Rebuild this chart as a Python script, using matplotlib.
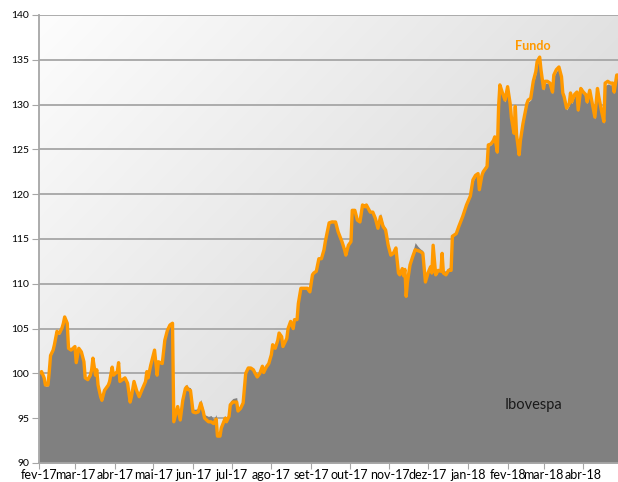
import numpy as np
import pandas as pd
import matplotlib
matplotlib.use("Agg")
import matplotlib.pyplot as plt

# days since 2017-02-01
days = [0, 2, 4, 5, 7, 8, 9, 11, 12, 14, 15, 16, 18, 19, 20, 22, 23, 25, 28, 29,
        31, 33, 35, 36, 38, 40, 41, 42, 44, 45, 46, 48, 49, 51, 54, 55, 57, 58, 61, 62,
        63, 65, 67, 69, 71, 72, 74, 76, 78, 80, 83, 84, 85, 87, 90, 92, 93, 96, 98, 100,
        102, 104, 105, 108, 110, 112, 114, 115, 116, 118, 120, 122, 124, 126, 128, 129, 132, 134, 136, 138,
        139, 141, 142, 145, 146, 148, 149, 151, 154, 155, 157, 159, 161, 163, 165, 167, 168, 170, 172, 174,
        175, 177, 179, 181, 182, 184, 186, 187, 189, 190, 193, 194, 196, 198, 199, 201, 202, 204, 206, 209,
        211, 213, 214, 216, 218, 220, 222, 223, 226, 228, 231, 233, 236, 238, 239, 241, 243, 244, 246, 248,
        250, 252, 254, 255, 258, 260, 262, 264, 266, 268, 270, 272, 274, 276, 278, 280, 281, 283, 284, 285,
        286, 287, 289, 291, 293, 295, 297, 299, 301, 303, 305, 306, 307, 309, 311, 313, 314, 315, 317, 319,
        321, 322, 325, 327, 330, 333, 336, 338, 340, 342, 343, 345, 346, 348, 349, 350, 352, 354, 355, 357,
        358, 359, 361, 363, 365, 367, 368, 370, 371, 372, 374, 375, 377, 380, 381, 383, 385, 387, 388, 390,
        391, 393, 394, 396, 398, 400, 401, 403, 405, 407, 408, 409, 411, 413, 414, 415, 417, 419, 420, 422,
        424, 426, 427, 429, 431, 433, 435, 436, 438, 440, 441, 443, 445, 447, 448, 450, 451]

fundo = [100.0, 100.2, 99.5, 98.7, 98.7, 100.2, 102.0, 102.6, 103.2, 104.7, 104.5, 104.5, 105.1, 105.6, 106.3, 105.6, 102.8, 102.6, 103.0, 101.2,
         102.8, 102.4, 101.3, 99.5, 99.3, 99.8, 100.4, 101.7, 99.8, 100.4, 98.7, 97.4, 97.0, 98.1, 98.7, 99.1, 100.7, 99.8, 100.2, 101.2,
         99.1, 99.3, 99.5, 98.9, 96.8, 97.4, 99.1, 98.1, 97.4, 98.1, 99.1, 100.2, 99.5, 100.9, 102.6, 99.8, 101.3, 101.1, 103.7, 104.8,
         105.4, 105.6, 94.6, 96.3, 94.8, 97.0, 98.3, 98.5, 98.2, 98.1, 95.7, 95.6, 95.7, 96.7, 95.7, 95.0, 94.6, 94.6, 94.4, 94.9,
         93.0, 93.0, 93.9, 95.0, 94.6, 95.2, 96.5, 96.8, 96.8, 95.8, 96.1, 96.7, 100.0, 100.6, 100.6, 100.4, 100.1, 99.6, 100.0, 100.8,
         100.1, 100.7, 101.1, 102.1, 103.2, 102.8, 103.7, 104.5, 104.1, 103.0, 103.9, 105.0, 105.8, 105.0, 106.0, 106.0, 107.8, 109.5, 109.5, 109.5,
         109.1, 111.0, 111.2, 111.4, 112.8, 112.8, 113.8, 114.7, 116.8, 116.9, 116.9, 115.8, 114.7, 113.8, 113.2, 114.3, 114.7, 118.2, 118.2, 117.1,
         116.9, 118.8, 118.6, 118.8, 118.0, 118.0, 117.3, 116.2, 117.5, 116.4, 116.0, 114.3, 113.2, 113.4, 114.0, 111.2, 111.0, 111.7, 110.9, 111.6,
         108.6, 110.2, 112.1, 113.0, 113.8, 113.7, 113.6, 113.4, 110.2, 111.2, 111.9, 111.2, 114.3, 111.0, 111.5, 111.4, 113.4, 111.2, 111.0, 111.5,
         111.5, 115.3, 115.6, 116.4, 117.5, 118.8, 119.8, 121.6, 122.1, 122.3, 120.5, 122.1, 122.5, 122.9, 123.1, 125.5, 125.6, 126.0, 126.4, 124.7,
         129.8, 132.2, 131.3, 130.5, 132.0, 130.1, 128.5, 126.8, 129.8, 126.6, 124.4, 126.0, 127.9, 130.1, 130.5, 130.7, 132.6, 133.7, 134.8, 135.3,
         133.9, 131.8, 132.6, 132.6, 132.4, 131.4, 133.3, 133.9, 134.2, 133.1, 131.3, 130.9, 129.6, 130.1, 131.3, 130.3, 131.1, 131.4, 129.4, 131.8,
         131.4, 131.1, 130.3, 131.6, 130.1, 128.6, 131.8, 130.9, 129.4, 128.1, 132.4, 132.6, 132.4, 132.4, 131.4, 133.3, 133.3]

ibovespa = [100.0, 100.1, 99.4, 98.6, 98.6, 100.1, 101.9, 102.5, 103.1, 104.6, 104.4, 104.4, 105.0, 105.5, 106.2, 105.5, 102.9, 102.7, 103.1, 101.3,
            102.9, 102.5, 101.4, 99.5, 99.3, 99.8, 100.4, 101.6, 99.8, 100.4, 98.7, 97.4, 97.0, 98.1, 98.7, 99.1, 100.7, 99.8, 100.2, 101.1,
            99.1, 99.3, 99.5, 98.9, 96.9, 97.4, 99.1, 98.1, 97.4, 98.1, 99.1, 100.1, 99.5, 100.9, 102.5, 99.8, 101.2, 101.1, 103.6, 104.9,
            105.5, 105.7, 94.8, 96.4, 95.0, 97.2, 98.6, 98.8, 98.5, 98.4, 96.0, 96.0, 96.1, 97.1, 96.0, 95.4, 95.2, 95.3, 94.9, 95.4,
            93.5, 93.3, 94.1, 95.3, 95.0, 95.6, 96.9, 97.2, 97.3, 96.0, 96.3, 96.9, 100.2, 100.8, 100.7, 100.5, 100.2, 99.7, 100.1, 100.9,
            100.2, 100.8, 101.2, 102.2, 103.3, 102.9, 103.8, 104.7, 104.2, 103.1, 104.0, 105.1, 105.9, 105.1, 106.1, 106.0, 107.8, 109.5, 109.5, 109.4,
            109.1, 110.9, 111.2, 111.4, 112.7, 112.8, 113.8, 114.7, 116.9, 117.1, 117.0, 115.9, 114.8, 113.9, 113.4, 114.5, 114.9, 118.0, 118.1, 117.1,
            117.0, 118.7, 118.5, 118.6, 118.0, 118.1, 117.5, 116.5, 117.9, 116.7, 116.2, 114.6, 113.5, 113.7, 114.2, 111.4, 111.3, 111.9, 111.2, 111.9,
            109.0, 110.6, 112.5, 113.5, 114.6, 114.2, 113.9, 113.7, 110.5, 111.5, 112.1, 111.5, 114.4, 111.4, 111.7, 111.7, 113.5, 111.5, 111.4, 111.8,
            111.9, 115.2, 115.6, 116.4, 117.5, 118.7, 119.7, 121.4, 122.0, 122.2, 120.4, 122.0, 122.4, 122.8, 123.0, 125.3, 125.5, 125.9, 126.2, 124.5,
            129.5, 131.8, 131.0, 130.3, 131.6, 129.9, 128.3, 126.6, 129.5, 126.4, 124.3, 125.9, 127.7, 129.9, 130.3, 130.5, 132.4, 133.4, 134.5, 135.0,
            133.7, 131.6, 132.4, 132.4, 132.2, 131.2, 133.1, 133.7, 134.0, 132.9, 131.1, 130.7, 129.4, 129.9, 131.1, 130.1, 130.9, 131.2, 129.2, 131.6,
            131.2, 130.9, 130.1, 131.4, 129.9, 128.4, 131.6, 130.7, 129.2, 127.9, 132.1, 132.3, 132.2, 132.2, 131.2, 133.0, 133.1]

month_labels = ['fev-17', 'mar-17', 'abr-17', 'mai-17', 'jun-17', 'jul-17', 'ago-17', 'set-17',
                'out-17', 'nov-17', 'dez-17', 'jan-18', 'fev-18', 'mar-18', 'abr-18']

start = pd.Timestamp('2017-02-01')
dates = start + pd.to_timedelta(days, unit='D')
month_ticks = pd.date_range('2017-02-01', periods=len(month_labels), freq='MS')

plt.rcParams['font.family'] = ['Lato', 'DejaVu Sans']

fig = plt.figure(figsize=(6.18, 4.82), dpi=100)
ax = fig.add_axes([39 / 618, 19 / 482, 1 - 39 / 618, 448 / 482])

# diagonal gradient background
gx, gy = np.meshgrid(np.linspace(0, 1, 200), np.linspace(0, 1, 200))
shade = 253 - 27 * gx - 20 * (1 - gy)
bg = np.dstack([shade / 255] * 3)
ax.imshow(bg, extent=[0, 1, 0, 1], transform=ax.transAxes, origin='lower',
          aspect='auto', zorder=0, interpolation='bilinear')

ax.set_ylim(90, 140)
ax.set_xlim(start, start + pd.Timedelta(days=451))
ax.set_yticks(np.arange(90, 141, 5))
for v in range(95, 141, 5):
    ax.axhline(v, color='#a6a6a6', lw=1.3, zorder=1)

ax.fill_between(dates, 90, ibovespa, color='#808080', lw=0, zorder=2)
ax.plot(dates, fundo, color='#ff9900', lw=2.4, zorder=3, solid_joinstyle='round')

ax.set_xticks(month_ticks)
ax.set_xticklabels(month_labels, fontsize=9)
ax.tick_params(axis='x', length=4, color='#a6a6a6', pad=0.5)
ax.tick_params(axis='y', length=5, color='#a6a6a6', labelsize=7.5, pad=2)

for s in ['top', 'right']:
    ax.spines[s].set_visible(False)
for s in ['left', 'bottom']:
    ax.spines[s].set_color('#a6a6a6')
    ax.spines[s].set_linewidth(1.3)
    ax.spines[s].set_zorder(4)

ax.text(start + pd.Timedelta(days=385), 135.9, 'Fundo', color='#ff9900', fontsize=9,
        fontweight='bold', ha='center', va='bottom', zorder=5)
ax.text(start + pd.Timedelta(days=385), 96.5, 'Ibovespa', color='#1a1a1a', fontsize=10.5,
        ha='center', va='center', zorder=5)

fig.savefig('out.png', dpi=100)
